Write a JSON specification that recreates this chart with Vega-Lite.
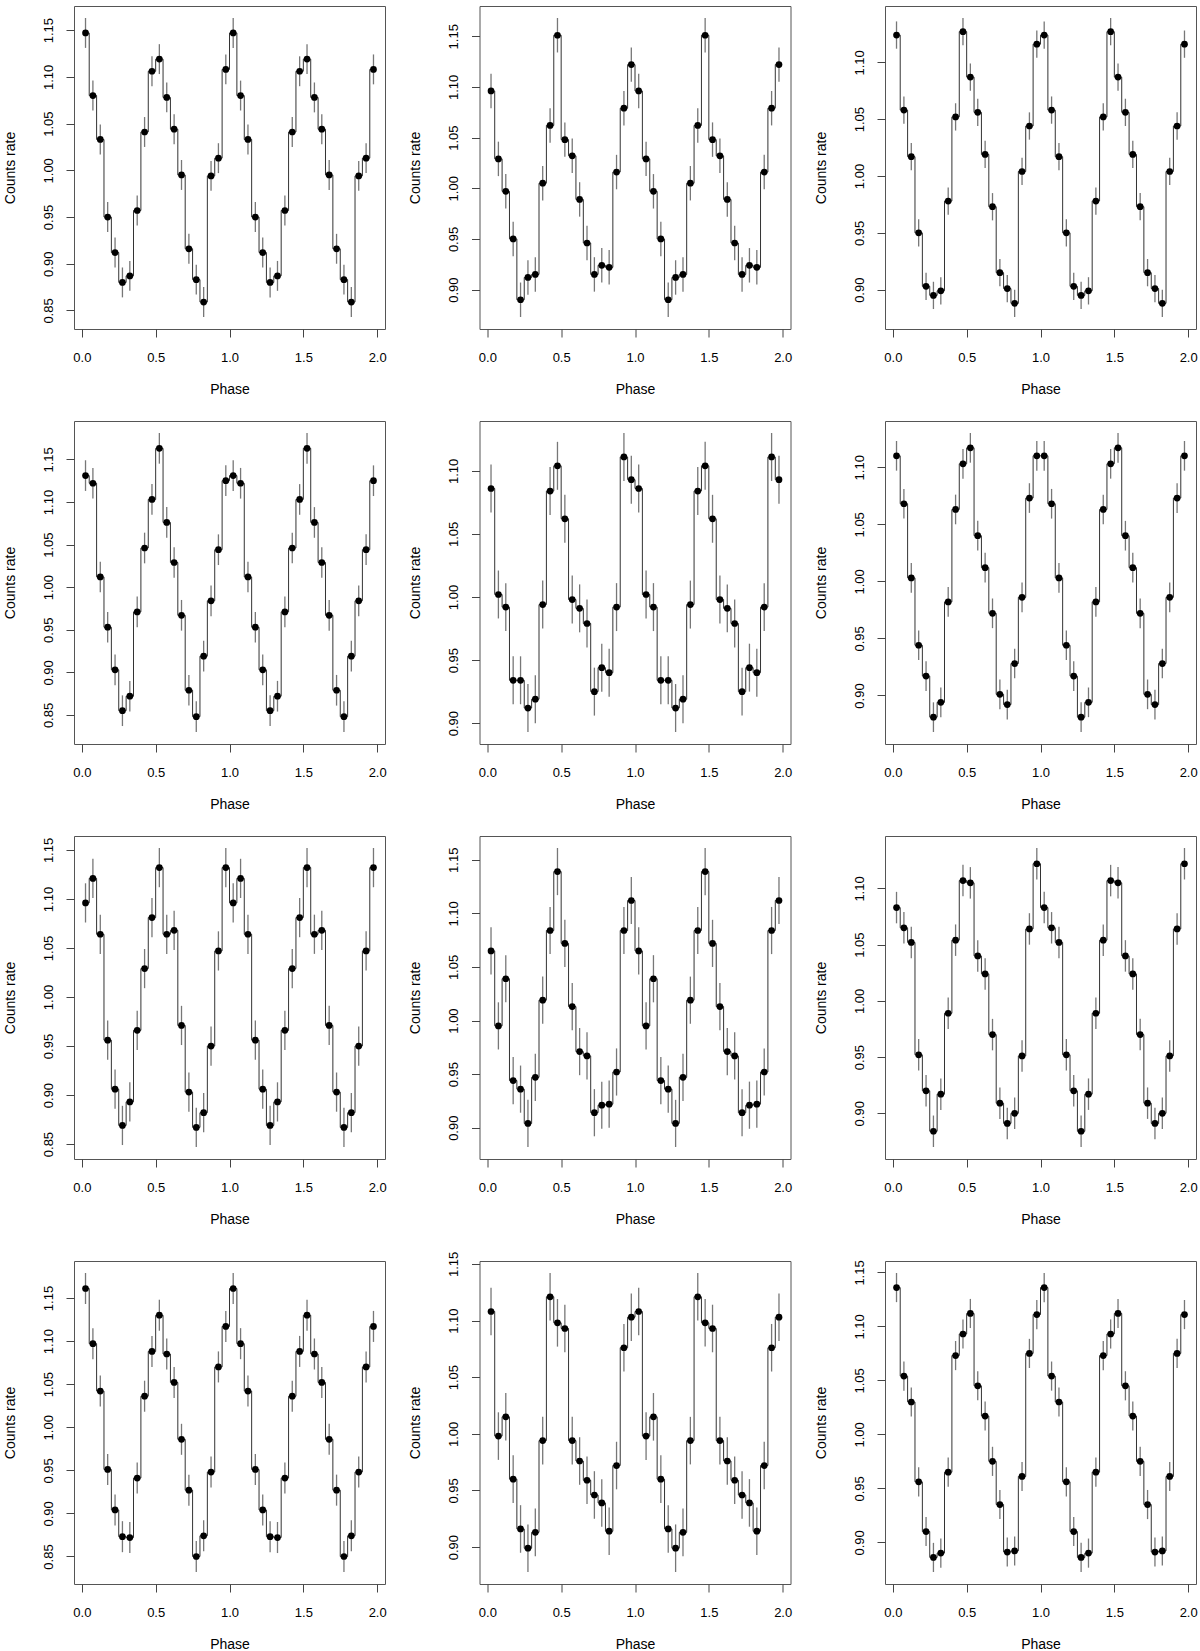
{
"$schema":"https://vega.github.io/schema/vega-lite/v6.json",
"padding":{"left":2,"top":5,"right":0,"bottom":0},
"background":"white",
"data":{"values":[
{"r":1,"c":1,"x":0.025,"y":1.147,"e":0.016},{"r":1,"c":1,"x":0.075,"y":1.080,"e":0.016},{"r":1,"c":1,"x":0.125,"y":1.033,"e":0.016},{"r":1,"c":1,"x":0.175,"y":0.950,"e":0.016},{"r":1,"c":1,"x":0.225,"y":0.912,"e":0.016},{"r":1,"c":1,"x":0.275,"y":0.880,"e":0.016},{"r":1,"c":1,"x":0.325,"y":0.887,"e":0.016},{"r":1,"c":1,"x":0.375,"y":0.957,"e":0.016},{"r":1,"c":1,"x":0.425,"y":1.041,"e":0.016},{"r":1,"c":1,"x":0.475,"y":1.106,"e":0.016},{"r":1,"c":1,"x":0.525,"y":1.119,"e":0.016},{"r":1,"c":1,"x":0.575,"y":1.078,"e":0.016},{"r":1,"c":1,"x":0.625,"y":1.044,"e":0.016},{"r":1,"c":1,"x":0.675,"y":0.995,"e":0.016},{"r":1,"c":1,"x":0.725,"y":0.916,"e":0.016},{"r":1,"c":1,"x":0.775,"y":0.883,"e":0.016},{"r":1,"c":1,"x":0.825,"y":0.859,"e":0.016},{"r":1,"c":1,"x":0.875,"y":0.994,"e":0.016},{"r":1,"c":1,"x":0.925,"y":1.013,"e":0.016},{"r":1,"c":1,"x":0.975,"y":1.108,"e":0.016},
{"r":1,"c":1,"x":1.025,"y":1.147,"e":0.016},{"r":1,"c":1,"x":1.075,"y":1.080,"e":0.016},{"r":1,"c":1,"x":1.125,"y":1.033,"e":0.016},{"r":1,"c":1,"x":1.175,"y":0.950,"e":0.016},{"r":1,"c":1,"x":1.225,"y":0.912,"e":0.016},{"r":1,"c":1,"x":1.275,"y":0.880,"e":0.016},{"r":1,"c":1,"x":1.325,"y":0.887,"e":0.016},{"r":1,"c":1,"x":1.375,"y":0.957,"e":0.016},{"r":1,"c":1,"x":1.425,"y":1.041,"e":0.016},{"r":1,"c":1,"x":1.475,"y":1.106,"e":0.016},{"r":1,"c":1,"x":1.525,"y":1.119,"e":0.016},{"r":1,"c":1,"x":1.575,"y":1.078,"e":0.016},{"r":1,"c":1,"x":1.625,"y":1.044,"e":0.016},{"r":1,"c":1,"x":1.675,"y":0.995,"e":0.016},{"r":1,"c":1,"x":1.725,"y":0.916,"e":0.016},{"r":1,"c":1,"x":1.775,"y":0.883,"e":0.016},{"r":1,"c":1,"x":1.825,"y":0.859,"e":0.016},{"r":1,"c":1,"x":1.875,"y":0.994,"e":0.016},{"r":1,"c":1,"x":1.925,"y":1.013,"e":0.016},{"r":1,"c":1,"x":1.975,"y":1.108,"e":0.016},
{"r":1,"c":2,"x":0.025,"y":1.096,"e":0.017},{"r":1,"c":2,"x":0.075,"y":1.029,"e":0.017},{"r":1,"c":2,"x":0.125,"y":0.997,"e":0.017},{"r":1,"c":2,"x":0.175,"y":0.950,"e":0.017},{"r":1,"c":2,"x":0.225,"y":0.890,"e":0.017},{"r":1,"c":2,"x":0.275,"y":0.912,"e":0.017},{"r":1,"c":2,"x":0.325,"y":0.915,"e":0.017},{"r":1,"c":2,"x":0.375,"y":1.005,"e":0.017},{"r":1,"c":2,"x":0.425,"y":1.062,"e":0.017},{"r":1,"c":2,"x":0.475,"y":1.151,"e":0.017},{"r":1,"c":2,"x":0.525,"y":1.048,"e":0.017},{"r":1,"c":2,"x":0.575,"y":1.032,"e":0.017},{"r":1,"c":2,"x":0.625,"y":0.989,"e":0.017},{"r":1,"c":2,"x":0.675,"y":0.946,"e":0.017},{"r":1,"c":2,"x":0.725,"y":0.915,"e":0.017},{"r":1,"c":2,"x":0.775,"y":0.924,"e":0.017},{"r":1,"c":2,"x":0.825,"y":0.922,"e":0.017},{"r":1,"c":2,"x":0.875,"y":1.016,"e":0.017},{"r":1,"c":2,"x":0.925,"y":1.079,"e":0.017},{"r":1,"c":2,"x":0.975,"y":1.122,"e":0.017},
{"r":1,"c":2,"x":1.025,"y":1.096,"e":0.017},{"r":1,"c":2,"x":1.075,"y":1.029,"e":0.017},{"r":1,"c":2,"x":1.125,"y":0.997,"e":0.017},{"r":1,"c":2,"x":1.175,"y":0.950,"e":0.017},{"r":1,"c":2,"x":1.225,"y":0.890,"e":0.017},{"r":1,"c":2,"x":1.275,"y":0.912,"e":0.017},{"r":1,"c":2,"x":1.325,"y":0.915,"e":0.017},{"r":1,"c":2,"x":1.375,"y":1.005,"e":0.017},{"r":1,"c":2,"x":1.425,"y":1.062,"e":0.017},{"r":1,"c":2,"x":1.475,"y":1.151,"e":0.017},{"r":1,"c":2,"x":1.525,"y":1.048,"e":0.017},{"r":1,"c":2,"x":1.575,"y":1.032,"e":0.017},{"r":1,"c":2,"x":1.625,"y":0.989,"e":0.017},{"r":1,"c":2,"x":1.675,"y":0.946,"e":0.017},{"r":1,"c":2,"x":1.725,"y":0.915,"e":0.017},{"r":1,"c":2,"x":1.775,"y":0.924,"e":0.017},{"r":1,"c":2,"x":1.825,"y":0.922,"e":0.017},{"r":1,"c":2,"x":1.875,"y":1.016,"e":0.017},{"r":1,"c":2,"x":1.925,"y":1.079,"e":0.017},{"r":1,"c":2,"x":1.975,"y":1.122,"e":0.017},
{"r":1,"c":3,"x":0.025,"y":1.124,"e":0.012},{"r":1,"c":3,"x":0.075,"y":1.058,"e":0.012},{"r":1,"c":3,"x":0.125,"y":1.017,"e":0.012},{"r":1,"c":3,"x":0.175,"y":0.950,"e":0.012},{"r":1,"c":3,"x":0.225,"y":0.903,"e":0.012},{"r":1,"c":3,"x":0.275,"y":0.895,"e":0.012},{"r":1,"c":3,"x":0.325,"y":0.899,"e":0.012},{"r":1,"c":3,"x":0.375,"y":0.978,"e":0.012},{"r":1,"c":3,"x":0.425,"y":1.052,"e":0.012},{"r":1,"c":3,"x":0.475,"y":1.127,"e":0.012},{"r":1,"c":3,"x":0.525,"y":1.087,"e":0.012},{"r":1,"c":3,"x":0.575,"y":1.056,"e":0.012},{"r":1,"c":3,"x":0.625,"y":1.019,"e":0.012},{"r":1,"c":3,"x":0.675,"y":0.973,"e":0.012},{"r":1,"c":3,"x":0.725,"y":0.915,"e":0.012},{"r":1,"c":3,"x":0.775,"y":0.901,"e":0.012},{"r":1,"c":3,"x":0.825,"y":0.888,"e":0.012},{"r":1,"c":3,"x":0.875,"y":1.004,"e":0.012},{"r":1,"c":3,"x":0.925,"y":1.044,"e":0.012},{"r":1,"c":3,"x":0.975,"y":1.116,"e":0.012},
{"r":1,"c":3,"x":1.025,"y":1.124,"e":0.012},{"r":1,"c":3,"x":1.075,"y":1.058,"e":0.012},{"r":1,"c":3,"x":1.125,"y":1.017,"e":0.012},{"r":1,"c":3,"x":1.175,"y":0.950,"e":0.012},{"r":1,"c":3,"x":1.225,"y":0.903,"e":0.012},{"r":1,"c":3,"x":1.275,"y":0.895,"e":0.012},{"r":1,"c":3,"x":1.325,"y":0.899,"e":0.012},{"r":1,"c":3,"x":1.375,"y":0.978,"e":0.012},{"r":1,"c":3,"x":1.425,"y":1.052,"e":0.012},{"r":1,"c":3,"x":1.475,"y":1.127,"e":0.012},{"r":1,"c":3,"x":1.525,"y":1.087,"e":0.012},{"r":1,"c":3,"x":1.575,"y":1.056,"e":0.012},{"r":1,"c":3,"x":1.625,"y":1.019,"e":0.012},{"r":1,"c":3,"x":1.675,"y":0.973,"e":0.012},{"r":1,"c":3,"x":1.725,"y":0.915,"e":0.012},{"r":1,"c":3,"x":1.775,"y":0.901,"e":0.012},{"r":1,"c":3,"x":1.825,"y":0.888,"e":0.012},{"r":1,"c":3,"x":1.875,"y":1.004,"e":0.012},{"r":1,"c":3,"x":1.925,"y":1.044,"e":0.012},{"r":1,"c":3,"x":1.975,"y":1.116,"e":0.012},
{"r":2,"c":1,"x":0.025,"y":1.131,"e":0.018},{"r":2,"c":1,"x":0.075,"y":1.122,"e":0.018},{"r":2,"c":1,"x":0.125,"y":1.012,"e":0.018},{"r":2,"c":1,"x":0.175,"y":0.953,"e":0.018},{"r":2,"c":1,"x":0.225,"y":0.903,"e":0.018},{"r":2,"c":1,"x":0.275,"y":0.855,"e":0.018},{"r":2,"c":1,"x":0.325,"y":0.872,"e":0.018},{"r":2,"c":1,"x":0.375,"y":0.971,"e":0.018},{"r":2,"c":1,"x":0.425,"y":1.046,"e":0.018},{"r":2,"c":1,"x":0.475,"y":1.103,"e":0.018},{"r":2,"c":1,"x":0.525,"y":1.163,"e":0.018},{"r":2,"c":1,"x":0.575,"y":1.076,"e":0.018},{"r":2,"c":1,"x":0.625,"y":1.029,"e":0.018},{"r":2,"c":1,"x":0.675,"y":0.967,"e":0.018},{"r":2,"c":1,"x":0.725,"y":0.879,"e":0.018},{"r":2,"c":1,"x":0.775,"y":0.848,"e":0.018},{"r":2,"c":1,"x":0.825,"y":0.919,"e":0.018},{"r":2,"c":1,"x":0.875,"y":0.984,"e":0.018},{"r":2,"c":1,"x":0.925,"y":1.044,"e":0.018},{"r":2,"c":1,"x":0.975,"y":1.125,"e":0.018},
{"r":2,"c":1,"x":1.025,"y":1.131,"e":0.018},{"r":2,"c":1,"x":1.075,"y":1.122,"e":0.018},{"r":2,"c":1,"x":1.125,"y":1.012,"e":0.018},{"r":2,"c":1,"x":1.175,"y":0.953,"e":0.018},{"r":2,"c":1,"x":1.225,"y":0.903,"e":0.018},{"r":2,"c":1,"x":1.275,"y":0.855,"e":0.018},{"r":2,"c":1,"x":1.325,"y":0.872,"e":0.018},{"r":2,"c":1,"x":1.375,"y":0.971,"e":0.018},{"r":2,"c":1,"x":1.425,"y":1.046,"e":0.018},{"r":2,"c":1,"x":1.475,"y":1.103,"e":0.018},{"r":2,"c":1,"x":1.525,"y":1.163,"e":0.018},{"r":2,"c":1,"x":1.575,"y":1.076,"e":0.018},{"r":2,"c":1,"x":1.625,"y":1.029,"e":0.018},{"r":2,"c":1,"x":1.675,"y":0.967,"e":0.018},{"r":2,"c":1,"x":1.725,"y":0.879,"e":0.018},{"r":2,"c":1,"x":1.775,"y":0.848,"e":0.018},{"r":2,"c":1,"x":1.825,"y":0.919,"e":0.018},{"r":2,"c":1,"x":1.875,"y":0.984,"e":0.018},{"r":2,"c":1,"x":1.925,"y":1.044,"e":0.018},{"r":2,"c":1,"x":1.975,"y":1.125,"e":0.018},
{"r":2,"c":2,"x":0.025,"y":1.086,"e":0.019},{"r":2,"c":2,"x":0.075,"y":1.002,"e":0.019},{"r":2,"c":2,"x":0.125,"y":0.992,"e":0.019},{"r":2,"c":2,"x":0.175,"y":0.934,"e":0.019},{"r":2,"c":2,"x":0.225,"y":0.934,"e":0.019},{"r":2,"c":2,"x":0.275,"y":0.912,"e":0.019},{"r":2,"c":2,"x":0.325,"y":0.919,"e":0.019},{"r":2,"c":2,"x":0.375,"y":0.994,"e":0.019},{"r":2,"c":2,"x":0.425,"y":1.084,"e":0.019},{"r":2,"c":2,"x":0.475,"y":1.104,"e":0.019},{"r":2,"c":2,"x":0.525,"y":1.062,"e":0.019},{"r":2,"c":2,"x":0.575,"y":0.998,"e":0.019},{"r":2,"c":2,"x":0.625,"y":0.991,"e":0.019},{"r":2,"c":2,"x":0.675,"y":0.979,"e":0.019},{"r":2,"c":2,"x":0.725,"y":0.925,"e":0.019},{"r":2,"c":2,"x":0.775,"y":0.944,"e":0.019},{"r":2,"c":2,"x":0.825,"y":0.940,"e":0.019},{"r":2,"c":2,"x":0.875,"y":0.992,"e":0.019},{"r":2,"c":2,"x":0.925,"y":1.111,"e":0.019},{"r":2,"c":2,"x":0.975,"y":1.093,"e":0.019},
{"r":2,"c":2,"x":1.025,"y":1.086,"e":0.019},{"r":2,"c":2,"x":1.075,"y":1.002,"e":0.019},{"r":2,"c":2,"x":1.125,"y":0.992,"e":0.019},{"r":2,"c":2,"x":1.175,"y":0.934,"e":0.019},{"r":2,"c":2,"x":1.225,"y":0.934,"e":0.019},{"r":2,"c":2,"x":1.275,"y":0.912,"e":0.019},{"r":2,"c":2,"x":1.325,"y":0.919,"e":0.019},{"r":2,"c":2,"x":1.375,"y":0.994,"e":0.019},{"r":2,"c":2,"x":1.425,"y":1.084,"e":0.019},{"r":2,"c":2,"x":1.475,"y":1.104,"e":0.019},{"r":2,"c":2,"x":1.525,"y":1.062,"e":0.019},{"r":2,"c":2,"x":1.575,"y":0.998,"e":0.019},{"r":2,"c":2,"x":1.625,"y":0.991,"e":0.019},{"r":2,"c":2,"x":1.675,"y":0.979,"e":0.019},{"r":2,"c":2,"x":1.725,"y":0.925,"e":0.019},{"r":2,"c":2,"x":1.775,"y":0.944,"e":0.019},{"r":2,"c":2,"x":1.825,"y":0.940,"e":0.019},{"r":2,"c":2,"x":1.875,"y":0.992,"e":0.019},{"r":2,"c":2,"x":1.925,"y":1.111,"e":0.019},{"r":2,"c":2,"x":1.975,"y":1.093,"e":0.019},
{"r":2,"c":3,"x":0.025,"y":1.110,"e":0.013},{"r":2,"c":3,"x":0.075,"y":1.068,"e":0.013},{"r":2,"c":3,"x":0.125,"y":1.003,"e":0.013},{"r":2,"c":3,"x":0.175,"y":0.944,"e":0.013},{"r":2,"c":3,"x":0.225,"y":0.917,"e":0.013},{"r":2,"c":3,"x":0.275,"y":0.881,"e":0.013},{"r":2,"c":3,"x":0.325,"y":0.894,"e":0.013},{"r":2,"c":3,"x":0.375,"y":0.982,"e":0.013},{"r":2,"c":3,"x":0.425,"y":1.063,"e":0.013},{"r":2,"c":3,"x":0.475,"y":1.103,"e":0.013},{"r":2,"c":3,"x":0.525,"y":1.117,"e":0.013},{"r":2,"c":3,"x":0.575,"y":1.040,"e":0.013},{"r":2,"c":3,"x":0.625,"y":1.012,"e":0.013},{"r":2,"c":3,"x":0.675,"y":0.972,"e":0.013},{"r":2,"c":3,"x":0.725,"y":0.901,"e":0.013},{"r":2,"c":3,"x":0.775,"y":0.892,"e":0.013},{"r":2,"c":3,"x":0.825,"y":0.928,"e":0.013},{"r":2,"c":3,"x":0.875,"y":0.986,"e":0.013},{"r":2,"c":3,"x":0.925,"y":1.073,"e":0.013},{"r":2,"c":3,"x":0.975,"y":1.110,"e":0.013},
{"r":2,"c":3,"x":1.025,"y":1.110,"e":0.013},{"r":2,"c":3,"x":1.075,"y":1.068,"e":0.013},{"r":2,"c":3,"x":1.125,"y":1.003,"e":0.013},{"r":2,"c":3,"x":1.175,"y":0.944,"e":0.013},{"r":2,"c":3,"x":1.225,"y":0.917,"e":0.013},{"r":2,"c":3,"x":1.275,"y":0.881,"e":0.013},{"r":2,"c":3,"x":1.325,"y":0.894,"e":0.013},{"r":2,"c":3,"x":1.375,"y":0.982,"e":0.013},{"r":2,"c":3,"x":1.425,"y":1.063,"e":0.013},{"r":2,"c":3,"x":1.475,"y":1.103,"e":0.013},{"r":2,"c":3,"x":1.525,"y":1.117,"e":0.013},{"r":2,"c":3,"x":1.575,"y":1.040,"e":0.013},{"r":2,"c":3,"x":1.625,"y":1.012,"e":0.013},{"r":2,"c":3,"x":1.675,"y":0.972,"e":0.013},{"r":2,"c":3,"x":1.725,"y":0.901,"e":0.013},{"r":2,"c":3,"x":1.775,"y":0.892,"e":0.013},{"r":2,"c":3,"x":1.825,"y":0.928,"e":0.013},{"r":2,"c":3,"x":1.875,"y":0.986,"e":0.013},{"r":2,"c":3,"x":1.925,"y":1.073,"e":0.013},{"r":2,"c":3,"x":1.975,"y":1.110,"e":0.013},
{"r":3,"c":1,"x":0.025,"y":1.096,"e":0.020},{"r":3,"c":1,"x":0.075,"y":1.121,"e":0.020},{"r":3,"c":1,"x":0.125,"y":1.064,"e":0.020},{"r":3,"c":1,"x":0.175,"y":0.956,"e":0.020},{"r":3,"c":1,"x":0.225,"y":0.906,"e":0.020},{"r":3,"c":1,"x":0.275,"y":0.869,"e":0.020},{"r":3,"c":1,"x":0.325,"y":0.893,"e":0.020},{"r":3,"c":1,"x":0.375,"y":0.966,"e":0.020},{"r":3,"c":1,"x":0.425,"y":1.029,"e":0.020},{"r":3,"c":1,"x":0.475,"y":1.081,"e":0.020},{"r":3,"c":1,"x":0.525,"y":1.132,"e":0.020},{"r":3,"c":1,"x":0.575,"y":1.064,"e":0.020},{"r":3,"c":1,"x":0.625,"y":1.068,"e":0.020},{"r":3,"c":1,"x":0.675,"y":0.971,"e":0.020},{"r":3,"c":1,"x":0.725,"y":0.903,"e":0.020},{"r":3,"c":1,"x":0.775,"y":0.867,"e":0.020},{"r":3,"c":1,"x":0.825,"y":0.882,"e":0.020},{"r":3,"c":1,"x":0.875,"y":0.950,"e":0.020},{"r":3,"c":1,"x":0.925,"y":1.047,"e":0.020},{"r":3,"c":1,"x":0.975,"y":1.132,"e":0.020},
{"r":3,"c":1,"x":1.025,"y":1.096,"e":0.020},{"r":3,"c":1,"x":1.075,"y":1.121,"e":0.020},{"r":3,"c":1,"x":1.125,"y":1.064,"e":0.020},{"r":3,"c":1,"x":1.175,"y":0.956,"e":0.020},{"r":3,"c":1,"x":1.225,"y":0.906,"e":0.020},{"r":3,"c":1,"x":1.275,"y":0.869,"e":0.020},{"r":3,"c":1,"x":1.325,"y":0.893,"e":0.020},{"r":3,"c":1,"x":1.375,"y":0.966,"e":0.020},{"r":3,"c":1,"x":1.425,"y":1.029,"e":0.020},{"r":3,"c":1,"x":1.475,"y":1.081,"e":0.020},{"r":3,"c":1,"x":1.525,"y":1.132,"e":0.020},{"r":3,"c":1,"x":1.575,"y":1.064,"e":0.020},{"r":3,"c":1,"x":1.625,"y":1.068,"e":0.020},{"r":3,"c":1,"x":1.675,"y":0.971,"e":0.020},{"r":3,"c":1,"x":1.725,"y":0.903,"e":0.020},{"r":3,"c":1,"x":1.775,"y":0.867,"e":0.020},{"r":3,"c":1,"x":1.825,"y":0.882,"e":0.020},{"r":3,"c":1,"x":1.875,"y":0.950,"e":0.020},{"r":3,"c":1,"x":1.925,"y":1.047,"e":0.020},{"r":3,"c":1,"x":1.975,"y":1.132,"e":0.020},
{"r":3,"c":2,"x":0.025,"y":1.065,"e":0.022},{"r":3,"c":2,"x":0.075,"y":0.995,"e":0.022},{"r":3,"c":2,"x":0.125,"y":1.039,"e":0.022},{"r":3,"c":2,"x":0.175,"y":0.944,"e":0.022},{"r":3,"c":2,"x":0.225,"y":0.936,"e":0.022},{"r":3,"c":2,"x":0.275,"y":0.904,"e":0.022},{"r":3,"c":2,"x":0.325,"y":0.947,"e":0.022},{"r":3,"c":2,"x":0.375,"y":1.019,"e":0.022},{"r":3,"c":2,"x":0.425,"y":1.084,"e":0.022},{"r":3,"c":2,"x":0.475,"y":1.139,"e":0.022},{"r":3,"c":2,"x":0.525,"y":1.072,"e":0.022},{"r":3,"c":2,"x":0.575,"y":1.013,"e":0.022},{"r":3,"c":2,"x":0.625,"y":0.971,"e":0.022},{"r":3,"c":2,"x":0.675,"y":0.967,"e":0.022},{"r":3,"c":2,"x":0.725,"y":0.914,"e":0.022},{"r":3,"c":2,"x":0.775,"y":0.921,"e":0.022},{"r":3,"c":2,"x":0.825,"y":0.922,"e":0.022},{"r":3,"c":2,"x":0.875,"y":0.952,"e":0.022},{"r":3,"c":2,"x":0.925,"y":1.084,"e":0.022},{"r":3,"c":2,"x":0.975,"y":1.112,"e":0.022},
{"r":3,"c":2,"x":1.025,"y":1.065,"e":0.022},{"r":3,"c":2,"x":1.075,"y":0.995,"e":0.022},{"r":3,"c":2,"x":1.125,"y":1.039,"e":0.022},{"r":3,"c":2,"x":1.175,"y":0.944,"e":0.022},{"r":3,"c":2,"x":1.225,"y":0.936,"e":0.022},{"r":3,"c":2,"x":1.275,"y":0.904,"e":0.022},{"r":3,"c":2,"x":1.325,"y":0.947,"e":0.022},{"r":3,"c":2,"x":1.375,"y":1.019,"e":0.022},{"r":3,"c":2,"x":1.425,"y":1.084,"e":0.022},{"r":3,"c":2,"x":1.475,"y":1.139,"e":0.022},{"r":3,"c":2,"x":1.525,"y":1.072,"e":0.022},{"r":3,"c":2,"x":1.575,"y":1.013,"e":0.022},{"r":3,"c":2,"x":1.625,"y":0.971,"e":0.022},{"r":3,"c":2,"x":1.675,"y":0.967,"e":0.022},{"r":3,"c":2,"x":1.725,"y":0.914,"e":0.022},{"r":3,"c":2,"x":1.775,"y":0.921,"e":0.022},{"r":3,"c":2,"x":1.825,"y":0.922,"e":0.022},{"r":3,"c":2,"x":1.875,"y":0.952,"e":0.022},{"r":3,"c":2,"x":1.925,"y":1.084,"e":0.022},{"r":3,"c":2,"x":1.975,"y":1.112,"e":0.022},
{"r":3,"c":3,"x":0.025,"y":1.083,"e":0.014},{"r":3,"c":3,"x":0.075,"y":1.065,"e":0.014},{"r":3,"c":3,"x":0.125,"y":1.052,"e":0.014},{"r":3,"c":3,"x":0.175,"y":0.952,"e":0.014},{"r":3,"c":3,"x":0.225,"y":0.920,"e":0.014},{"r":3,"c":3,"x":0.275,"y":0.884,"e":0.014},{"r":3,"c":3,"x":0.325,"y":0.917,"e":0.014},{"r":3,"c":3,"x":0.375,"y":0.989,"e":0.014},{"r":3,"c":3,"x":0.425,"y":1.054,"e":0.014},{"r":3,"c":3,"x":0.475,"y":1.107,"e":0.014},{"r":3,"c":3,"x":0.525,"y":1.105,"e":0.014},{"r":3,"c":3,"x":0.575,"y":1.040,"e":0.014},{"r":3,"c":3,"x":0.625,"y":1.024,"e":0.014},{"r":3,"c":3,"x":0.675,"y":0.970,"e":0.014},{"r":3,"c":3,"x":0.725,"y":0.909,"e":0.014},{"r":3,"c":3,"x":0.775,"y":0.891,"e":0.014},{"r":3,"c":3,"x":0.825,"y":0.900,"e":0.014},{"r":3,"c":3,"x":0.875,"y":0.951,"e":0.014},{"r":3,"c":3,"x":0.925,"y":1.064,"e":0.014},{"r":3,"c":3,"x":0.975,"y":1.122,"e":0.014},
{"r":3,"c":3,"x":1.025,"y":1.083,"e":0.014},{"r":3,"c":3,"x":1.075,"y":1.065,"e":0.014},{"r":3,"c":3,"x":1.125,"y":1.052,"e":0.014},{"r":3,"c":3,"x":1.175,"y":0.952,"e":0.014},{"r":3,"c":3,"x":1.225,"y":0.920,"e":0.014},{"r":3,"c":3,"x":1.275,"y":0.884,"e":0.014},{"r":3,"c":3,"x":1.325,"y":0.917,"e":0.014},{"r":3,"c":3,"x":1.375,"y":0.989,"e":0.014},{"r":3,"c":3,"x":1.425,"y":1.054,"e":0.014},{"r":3,"c":3,"x":1.475,"y":1.107,"e":0.014},{"r":3,"c":3,"x":1.525,"y":1.105,"e":0.014},{"r":3,"c":3,"x":1.575,"y":1.040,"e":0.014},{"r":3,"c":3,"x":1.625,"y":1.024,"e":0.014},{"r":3,"c":3,"x":1.675,"y":0.970,"e":0.014},{"r":3,"c":3,"x":1.725,"y":0.909,"e":0.014},{"r":3,"c":3,"x":1.775,"y":0.891,"e":0.014},{"r":3,"c":3,"x":1.825,"y":0.900,"e":0.014},{"r":3,"c":3,"x":1.875,"y":0.951,"e":0.014},{"r":3,"c":3,"x":1.925,"y":1.064,"e":0.014},{"r":3,"c":3,"x":1.975,"y":1.122,"e":0.014},
{"r":4,"c":1,"x":0.025,"y":1.161,"e":0.018},{"r":4,"c":1,"x":0.075,"y":1.097,"e":0.018},{"r":4,"c":1,"x":0.125,"y":1.042,"e":0.018},{"r":4,"c":1,"x":0.175,"y":0.951,"e":0.018},{"r":4,"c":1,"x":0.225,"y":0.904,"e":0.018},{"r":4,"c":1,"x":0.275,"y":0.873,"e":0.018},{"r":4,"c":1,"x":0.325,"y":0.872,"e":0.018},{"r":4,"c":1,"x":0.375,"y":0.941,"e":0.018},{"r":4,"c":1,"x":0.425,"y":1.036,"e":0.018},{"r":4,"c":1,"x":0.475,"y":1.088,"e":0.018},{"r":4,"c":1,"x":0.525,"y":1.130,"e":0.018},{"r":4,"c":1,"x":0.575,"y":1.085,"e":0.018},{"r":4,"c":1,"x":0.625,"y":1.052,"e":0.018},{"r":4,"c":1,"x":0.675,"y":0.986,"e":0.018},{"r":4,"c":1,"x":0.725,"y":0.927,"e":0.018},{"r":4,"c":1,"x":0.775,"y":0.850,"e":0.018},{"r":4,"c":1,"x":0.825,"y":0.874,"e":0.018},{"r":4,"c":1,"x":0.875,"y":0.948,"e":0.018},{"r":4,"c":1,"x":0.925,"y":1.070,"e":0.018},{"r":4,"c":1,"x":0.975,"y":1.117,"e":0.018},
{"r":4,"c":1,"x":1.025,"y":1.161,"e":0.018},{"r":4,"c":1,"x":1.075,"y":1.097,"e":0.018},{"r":4,"c":1,"x":1.125,"y":1.042,"e":0.018},{"r":4,"c":1,"x":1.175,"y":0.951,"e":0.018},{"r":4,"c":1,"x":1.225,"y":0.904,"e":0.018},{"r":4,"c":1,"x":1.275,"y":0.873,"e":0.018},{"r":4,"c":1,"x":1.325,"y":0.872,"e":0.018},{"r":4,"c":1,"x":1.375,"y":0.941,"e":0.018},{"r":4,"c":1,"x":1.425,"y":1.036,"e":0.018},{"r":4,"c":1,"x":1.475,"y":1.088,"e":0.018},{"r":4,"c":1,"x":1.525,"y":1.130,"e":0.018},{"r":4,"c":1,"x":1.575,"y":1.085,"e":0.018},{"r":4,"c":1,"x":1.625,"y":1.052,"e":0.018},{"r":4,"c":1,"x":1.675,"y":0.986,"e":0.018},{"r":4,"c":1,"x":1.725,"y":0.927,"e":0.018},{"r":4,"c":1,"x":1.775,"y":0.850,"e":0.018},{"r":4,"c":1,"x":1.825,"y":0.874,"e":0.018},{"r":4,"c":1,"x":1.875,"y":0.948,"e":0.018},{"r":4,"c":1,"x":1.925,"y":1.070,"e":0.018},{"r":4,"c":1,"x":1.975,"y":1.117,"e":0.018},
{"r":4,"c":2,"x":0.025,"y":1.108,"e":0.021},{"r":4,"c":2,"x":0.075,"y":0.998,"e":0.021},{"r":4,"c":2,"x":0.125,"y":1.015,"e":0.021},{"r":4,"c":2,"x":0.175,"y":0.960,"e":0.021},{"r":4,"c":2,"x":0.225,"y":0.916,"e":0.021},{"r":4,"c":2,"x":0.275,"y":0.899,"e":0.021},{"r":4,"c":2,"x":0.325,"y":0.913,"e":0.021},{"r":4,"c":2,"x":0.375,"y":0.994,"e":0.021},{"r":4,"c":2,"x":0.425,"y":1.121,"e":0.021},{"r":4,"c":2,"x":0.475,"y":1.098,"e":0.021},{"r":4,"c":2,"x":0.525,"y":1.093,"e":0.021},{"r":4,"c":2,"x":0.575,"y":0.994,"e":0.021},{"r":4,"c":2,"x":0.625,"y":0.976,"e":0.021},{"r":4,"c":2,"x":0.675,"y":0.959,"e":0.021},{"r":4,"c":2,"x":0.725,"y":0.946,"e":0.021},{"r":4,"c":2,"x":0.775,"y":0.939,"e":0.021},{"r":4,"c":2,"x":0.825,"y":0.914,"e":0.021},{"r":4,"c":2,"x":0.875,"y":0.972,"e":0.021},{"r":4,"c":2,"x":0.925,"y":1.076,"e":0.021},{"r":4,"c":2,"x":0.975,"y":1.103,"e":0.021},
{"r":4,"c":2,"x":1.025,"y":1.108,"e":0.021},{"r":4,"c":2,"x":1.075,"y":0.998,"e":0.021},{"r":4,"c":2,"x":1.125,"y":1.015,"e":0.021},{"r":4,"c":2,"x":1.175,"y":0.960,"e":0.021},{"r":4,"c":2,"x":1.225,"y":0.916,"e":0.021},{"r":4,"c":2,"x":1.275,"y":0.899,"e":0.021},{"r":4,"c":2,"x":1.325,"y":0.913,"e":0.021},{"r":4,"c":2,"x":1.375,"y":0.994,"e":0.021},{"r":4,"c":2,"x":1.425,"y":1.121,"e":0.021},{"r":4,"c":2,"x":1.475,"y":1.098,"e":0.021},{"r":4,"c":2,"x":1.525,"y":1.093,"e":0.021},{"r":4,"c":2,"x":1.575,"y":0.994,"e":0.021},{"r":4,"c":2,"x":1.625,"y":0.976,"e":0.021},{"r":4,"c":2,"x":1.675,"y":0.959,"e":0.021},{"r":4,"c":2,"x":1.725,"y":0.946,"e":0.021},{"r":4,"c":2,"x":1.775,"y":0.939,"e":0.021},{"r":4,"c":2,"x":1.825,"y":0.914,"e":0.021},{"r":4,"c":2,"x":1.875,"y":0.972,"e":0.021},{"r":4,"c":2,"x":1.925,"y":1.076,"e":0.021},{"r":4,"c":2,"x":1.975,"y":1.103,"e":0.021},
{"r":4,"c":3,"x":0.025,"y":1.136,"e":0.0135},{"r":4,"c":3,"x":0.075,"y":1.054,"e":0.0135},{"r":4,"c":3,"x":0.125,"y":1.030,"e":0.0135},{"r":4,"c":3,"x":0.175,"y":0.956,"e":0.0135},{"r":4,"c":3,"x":0.225,"y":0.910,"e":0.0135},{"r":4,"c":3,"x":0.275,"y":0.886,"e":0.0135},{"r":4,"c":3,"x":0.325,"y":0.890,"e":0.0135},{"r":4,"c":3,"x":0.375,"y":0.965,"e":0.0135},{"r":4,"c":3,"x":0.425,"y":1.073,"e":0.0135},{"r":4,"c":3,"x":0.475,"y":1.093,"e":0.0135},{"r":4,"c":3,"x":0.525,"y":1.112,"e":0.0135},{"r":4,"c":3,"x":0.575,"y":1.045,"e":0.0135},{"r":4,"c":3,"x":0.625,"y":1.017,"e":0.0135},{"r":4,"c":3,"x":0.675,"y":0.975,"e":0.0135},{"r":4,"c":3,"x":0.725,"y":0.935,"e":0.0135},{"r":4,"c":3,"x":0.775,"y":0.891,"e":0.0135},{"r":4,"c":3,"x":0.825,"y":0.892,"e":0.0135},{"r":4,"c":3,"x":0.875,"y":0.961,"e":0.0135},{"r":4,"c":3,"x":0.925,"y":1.075,"e":0.0135},{"r":4,"c":3,"x":0.975,"y":1.111,"e":0.0135},
{"r":4,"c":3,"x":1.025,"y":1.136,"e":0.0135},{"r":4,"c":3,"x":1.075,"y":1.054,"e":0.0135},{"r":4,"c":3,"x":1.125,"y":1.030,"e":0.0135},{"r":4,"c":3,"x":1.175,"y":0.956,"e":0.0135},{"r":4,"c":3,"x":1.225,"y":0.910,"e":0.0135},{"r":4,"c":3,"x":1.275,"y":0.886,"e":0.0135},{"r":4,"c":3,"x":1.325,"y":0.890,"e":0.0135},{"r":4,"c":3,"x":1.375,"y":0.965,"e":0.0135},{"r":4,"c":3,"x":1.425,"y":1.073,"e":0.0135},{"r":4,"c":3,"x":1.475,"y":1.093,"e":0.0135},{"r":4,"c":3,"x":1.525,"y":1.112,"e":0.0135},{"r":4,"c":3,"x":1.575,"y":1.045,"e":0.0135},{"r":4,"c":3,"x":1.625,"y":1.017,"e":0.0135},{"r":4,"c":3,"x":1.675,"y":0.975,"e":0.0135},{"r":4,"c":3,"x":1.725,"y":0.935,"e":0.0135},{"r":4,"c":3,"x":1.775,"y":0.891,"e":0.0135},{"r":4,"c":3,"x":1.825,"y":0.892,"e":0.0135},{"r":4,"c":3,"x":1.875,"y":0.961,"e":0.0135},{"r":4,"c":3,"x":1.925,"y":1.075,"e":0.0135},{"r":4,"c":3,"x":1.975,"y":1.111,"e":0.0135}
]},
"spacing":23,
"vconcat":[
{"transform":[{"filter":"datum.r==1"}],"facet":{"column":{"field":"c","type":"ordinal","header":null}},"bounds":"flush","spacing":94.5,
 "resolve":{"scale":{"y":"independent","x":"independent"},"axis":{"x":"independent","y":"independent"}},
 "spec":{"width":311,"height":323,
  "encoding":{
   "x":{"field":"x","type":"quantitative","scale":{"domain":[-0.053,2.053],"nice":false,"zero":false},"axis":{"values":[0,0.5,1,1.5,2],"format":".1f","title":"Phase","labelPadding":14,"titlePadding":18,"minExtent":35,"maxExtent":35}},
   "y":{"field":"y","type":"quantitative","scale":{"zero":false,"nice":false,"padding":12},"axis":{"title":"Counts rate","format":".2f","tickCount":7,"labelAngle":-90,"labelAlign":"center","labelBaseline":"bottom","labelPadding":11,"minExtent":40,"maxExtent":40,"titlePadding":17}}},
  "layer":[
   {"mark":{"type":"line","interpolate":"step","color":"#333","strokeWidth":1}},
   {"mark":{"type":"errorbar","color":"#777","thickness":1.3},"encoding":{"yError":{"field":"e"}}},
   {"mark":{"type":"circle","color":"#000","size":45,"opacity":1}}]}},
{"transform":[{"filter":"datum.r==2"}],"facet":{"column":{"field":"c","type":"ordinal","header":null}},"bounds":"flush","spacing":94.5,
 "resolve":{"scale":{"y":"independent","x":"independent"},"axis":{"x":"independent","y":"independent"}},
 "spec":{"width":311,"height":323,
  "encoding":{
   "x":{"field":"x","type":"quantitative","scale":{"domain":[-0.053,2.053],"nice":false,"zero":false},"axis":{"values":[0,0.5,1,1.5,2],"format":".1f","title":"Phase","labelPadding":14,"titlePadding":18,"minExtent":35,"maxExtent":35}},
   "y":{"field":"y","type":"quantitative","scale":{"zero":false,"nice":false,"padding":12},"axis":{"title":"Counts rate","format":".2f","tickCount":7,"labelAngle":-90,"labelAlign":"center","labelBaseline":"bottom","labelPadding":11,"minExtent":40,"maxExtent":40,"titlePadding":17}}},
  "layer":[
   {"mark":{"type":"line","interpolate":"step","color":"#333","strokeWidth":1}},
   {"mark":{"type":"errorbar","color":"#777","thickness":1.3},"encoding":{"yError":{"field":"e"}}},
   {"mark":{"type":"circle","color":"#000","size":45,"opacity":1}}]}},
{"transform":[{"filter":"datum.r==3"}],"facet":{"column":{"field":"c","type":"ordinal","header":null}},"bounds":"flush","spacing":94.5,
 "resolve":{"scale":{"y":"independent","x":"independent"},"axis":{"x":"independent","y":"independent"}},
 "spec":{"width":311,"height":323,
  "encoding":{
   "x":{"field":"x","type":"quantitative","scale":{"domain":[-0.053,2.053],"nice":false,"zero":false},"axis":{"values":[0,0.5,1,1.5,2],"format":".1f","title":"Phase","labelPadding":14,"titlePadding":18,"minExtent":35,"maxExtent":35}},
   "y":{"field":"y","type":"quantitative","scale":{"zero":false,"nice":false,"padding":12},"axis":{"title":"Counts rate","format":".2f","tickCount":7,"labelAngle":-90,"labelAlign":"center","labelBaseline":"bottom","labelPadding":11,"minExtent":40,"maxExtent":40,"titlePadding":17}}},
  "layer":[
   {"mark":{"type":"line","interpolate":"step","color":"#333","strokeWidth":1}},
   {"mark":{"type":"errorbar","color":"#777","thickness":1.3},"encoding":{"yError":{"field":"e"}}},
   {"mark":{"type":"circle","color":"#000","size":45,"opacity":1}}]}},
{"transform":[{"filter":"datum.r==4"}],"facet":{"column":{"field":"c","type":"ordinal","header":null}},"bounds":"flush","spacing":94.5,
 "resolve":{"scale":{"y":"independent","x":"independent"},"axis":{"x":"independent","y":"independent"}},
 "spec":{"width":311,"height":323,
  "encoding":{
   "x":{"field":"x","type":"quantitative","scale":{"domain":[-0.053,2.053],"nice":false,"zero":false},"axis":{"values":[0,0.5,1,1.5,2],"format":".1f","title":"Phase","labelPadding":14,"titlePadding":18,"minExtent":35,"maxExtent":35}},
   "y":{"field":"y","type":"quantitative","scale":{"zero":false,"nice":false,"padding":12},"axis":{"title":"Counts rate","format":".2f","tickCount":7,"labelAngle":-90,"labelAlign":"center","labelBaseline":"bottom","labelPadding":11,"minExtent":40,"maxExtent":40,"titlePadding":17}}},
  "layer":[
   {"mark":{"type":"line","interpolate":"step","color":"#333","strokeWidth":1}},
   {"mark":{"type":"errorbar","color":"#777","thickness":1.3},"encoding":{"yError":{"field":"e"}}},
   {"mark":{"type":"circle","color":"#000","size":45,"opacity":1}}]}}
],
"config":{
 "font":"Liberation Sans",
 "view":{"stroke":"#555","strokeWidth":1},
 "axis":{"grid":false,"domain":false,"tickSize":8,"tickColor":"#444","labelFontSize":13,"titleFontSize":14,"titleFontWeight":"normal","labelColor":"#000","titleColor":"#000","labelOverlap":false,"labelFlush":false}
}
}
